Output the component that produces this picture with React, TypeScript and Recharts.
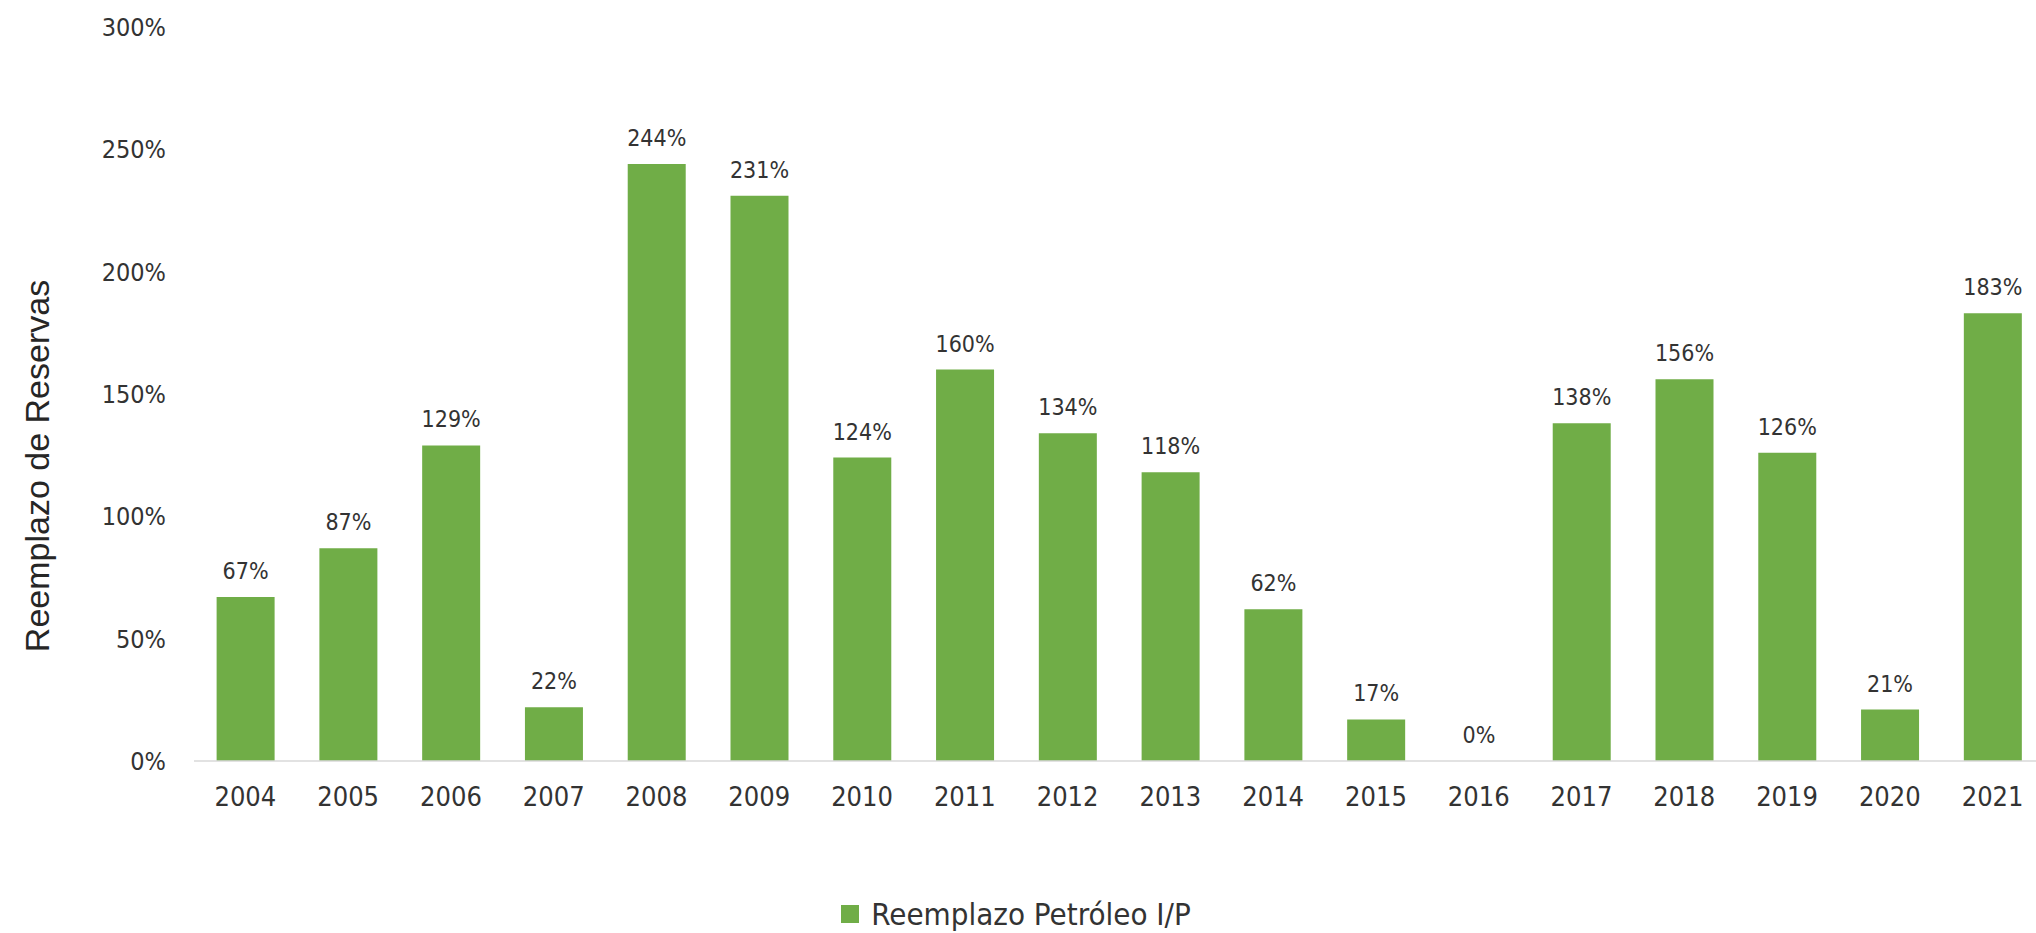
import React from "react";
import {
  BarChart,
  Bar,
  XAxis,
  YAxis,
  Legend,
  LabelList,
  Label,
} from "recharts";

// datos
const years = [
  "2004", "2005", "2006", "2007", "2008", "2009", "2010", "2011", "2012",
  "2013", "2014", "2015", "2016", "2017", "2018", "2019", "2020", "2021",
];
const reemplazo = [
  67, 87, 129, 22, 244, 231, 124, 160, 134, 118, 62, 17, 0, 138, 156, 126, 21, 183,
];
const yTicks = [0, 50, 100, 150, 200, 250, 300];

const seriesName = "Reemplazo Petróleo I/P";
const GREEN = "#70AD47";
const TEXT = "#333333";
const FONT = "'DejaVu Sans Condensed', 'DejaVu Sans', sans-serif";

const data = years.map((y, i) => ({ year: y, value: reemplazo[i] }));

function YTitle(props: any) {
  const vb = props.viewBox || {};
  const cx = (vb.x || 0) + 37;
  const cy = (vb.y || 0) + (vb.height || 0) / 2 + 72;
  return (
    <text
      x={cx}
      y={cy}
      transform={`rotate(-90, ${cx}, ${cy})`}
      textAnchor="middle"
      dominantBaseline="central"
      fill="#262626"
      fontFamily="'Liberation Sans', Arial, sans-serif"
      fontSize={34}
    >
      Reemplazo de Reservas
    </text>
  );
}

function LegendBox() {
  return (
    <div
      style={{
        width: "100%",
        display: "flex",
        justifyContent: "center",
        alignItems: "center",
        height: 34,
        lineHeight: "34px",
        boxSizing: "border-box",
        paddingRight: 12,
        paddingBottom: 4,
        fontFamily: FONT,
        fontStretch: "condensed",
        fontSize: 31,
        color: TEXT,
      }}
    >
      <span
        style={{
          width: 18,
          height: 18,
          background: GREEN,
          display: "inline-block",
          marginRight: 12,
        }}
      />
      <span>{seriesName}</span>
    </div>
  );
}

export default function App() {
  return (
    <div
      style={{
        position: "absolute",
        left: 0,
        top: 0,
        width: 2036,
        height: 933,
        overflow: "hidden",
        background: "#fff",
      }}
    >
      <BarChart
        width={2044}
        height={933}
        data={data}
        margin={{ top: 27, right: 0, left: 0, bottom: 0 }}
        barCategoryGap="22%"
      >
        <XAxis
          dataKey="year"
          height={138}
          tickLine={false}
          tickSize={0}
          tickMargin={26}
          axisLine={{ stroke: "#D9D9D9", strokeWidth: 1.5 }}
          tick={{ fill: TEXT, fontSize: 27, fontFamily: FONT, fontStretch: "condensed" } as any}
          interval={0}
        />
        <YAxis
          width={194}
          domain={[0, 300]}
          ticks={yTicks}
          tickFormatter={(v: number) => `${v}%`}
          axisLine={false}
          tickLine={false}
          tickSize={0}
          tickMargin={28}
          tick={{ fill: TEXT, fontSize: 25, fontFamily: FONT, fontStretch: "condensed" } as any}
        >
          <Label content={<YTitle />} />
        </YAxis>
        <Legend
          verticalAlign="bottom"
          align="center"
          content={<LegendBox />}
          wrapperStyle={{ left: 0, width: 2044 }}
        />
        <Bar
          dataKey="value"
          name={seriesName}
          fill={GREEN}
          minPointSize={0.01}
          isAnimationActive={false}
        >
          <LabelList
            dataKey="value"
            position="top"
            offset={18}
            formatter={(v: any) => `${v}%`}
            fill={TEXT}
            fontSize={23}
            fontFamily={FONT}
            style={{ fontStretch: "condensed" }}
          />
        </Bar>
      </BarChart>
    </div>
  );
}
